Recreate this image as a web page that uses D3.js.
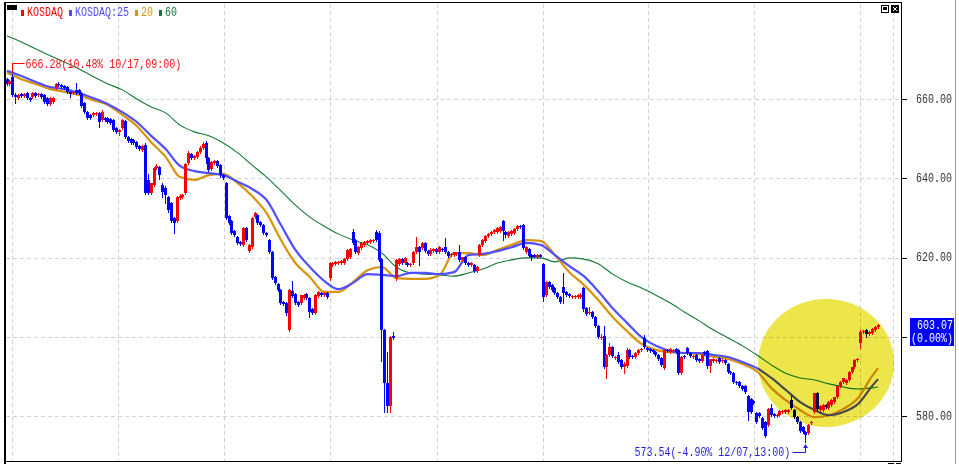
<!DOCTYPE html>
<html><head><meta charset="utf-8">
<script src="https://cdn.jsdelivr.net/npm/d3@7"></script>
<style>html,body{margin:0;padding:0;background:#fff;}svg{display:block;}</style>
</head><body>
<script>
// ---- hourly candles [open, high, low, close] ----
const segA = [
[665.0,665.3,663.6,663.8],[663.8,664.8,663.6,664.5],[665.5,666.28,660.8,661.0],[661.0,661.5,659.0,660.5],
[660.3,661.2,660.0,661.0],[661.3,661.5,660.5,660.8],[660.8,661.4,660.6,661.2],[661.5,661.8,660.0,660.3],
[660.3,660.6,659.6,659.8],[660.5,661.8,660.3,661.5],[661.5,661.8,660.6,660.8],[661.0,661.4,660.8,661.3],
[661.3,661.5,660.3,660.5],[661.0,661.2,659.0,659.2],[660.3,660.5,658.4,658.7],[658.7,660.5,658.5,660.3],
[659.2,660.5,659.0,660.3],[662.8,664.0,662.6,663.8],[663.8,664.3,663.3,663.5],[663.5,663.7,662.9,663.1],
[663.3,663.5,662.6,662.8],[663.0,663.2,661.5,661.8],[661.8,662.0,660.6,661.3],[661.5,662.0,661.3,661.8],
[662.3,664.0,661.3,661.5],[662.3,662.5,661.3,661.5],[661.5,661.8,658.0,658.2],[659.0,659.2,656.5,656.7],
[656.7,657.0,655.0,655.2],[656.0,656.2,655.0,655.2],[656.0,656.7,655.8,656.5],[656.2,656.8,656.0,656.5],
[656.5,656.8,652.9,654.2],[654.7,657.2,654.5,656.7],[655.2,655.5,654.5,654.7],[655.2,655.4,654.0,654.2],
[655.0,655.2,653.7,653.9],[654.7,655.0,652.0,652.2],[652.7,652.9,651.5,651.7],[651.7,652.4,650.9,652.2],
[652.7,655.0,652.5,654.7],[654.4,654.7,650.2,650.4],[650.4,650.7,649.1,649.4],[649.9,650.2,648.6,648.9],
[649.7,649.9,648.6,648.9],[649.1,649.4,647.6,647.9],[648.1,648.4,647.1,647.4],[647.1,648.4,646.9,648.1],
[648.4,648.9,636.0,636.3],[639.6,641.0,636.0,636.3],[636.3,638.8,636.0,638.8],[638.3,642.8,638.0,642.6]
];
const segB = [
[642.6,643.6,642.3,643.1],[642.8,643.1,639.8,640.8],[638.3,638.8,635.3,636.5],[637.6,638.0,633.8,635.8],
[635.3,635.5,631.5,632.0],[633.8,634.0,629.0,629.2],[630.0,630.3,626.2,628.7],[629.2,635.5,629.0,635.3],
[635.0,636.0,634.8,635.5],[635.3,636.0,635.0,635.8],[636.3,643.9,636.0,643.6],[643.9,646.9,643.6,646.4],
[646.1,646.4,644.9,645.1],[645.1,645.9,644.9,645.6],[645.4,646.9,645.1,646.6],[646.6,648.1,646.4,647.6],
[647.6,649.1,647.4,648.6],[648.9,649.4,643.9,645.1],[645.1,645.4,641.8,642.1],[642.3,644.4,642.0,644.1],
[643.9,644.6,643.6,644.4],[644.4,644.6,642.8,643.1],[643.3,643.6,640.3,640.8],[640.8,641.1,639.8,640.1],
[638.8,639.1,629.7,630.0],[630.5,630.7,628.5,628.7],[629.2,629.5,625.9,626.2],[626.7,627.0,625.4,625.7],
[625.2,625.4,623.4,623.7],[623.9,624.2,623.2,623.4],[623.2,627.7,622.9,627.5],[627.5,627.7,624.2,624.4],
[621.7,623.4,621.4,623.2],[622.7,630.2,622.4,630.0],[630.2,631.5,630.0,631.2],[630.7,631.0,628.5,628.7],
[629.0,629.2,628.0,628.2],[628.2,628.5,626.0,626.2],[626.2,626.5,625.4,625.7],[624.4,624.7,621.1,621.4],
[621.4,621.7,614.6,614.8],[615.1,615.3,613.3,613.6],[613.3,613.6,611.6,611.8],[611.8,612.1,608.3,608.5],
[608.8,609.0,608.0,608.3],[608.5,608.8,605.5,606.0],[601.7,612.0,601.5,611.8],[611.5,614.1,610.0,610.3],
[610.8,611.0,608.3,608.5],[608.8,609.0,607.8,608.0],[608.5,610.5,608.3,610.5]
];
const segC = [
[609.8,610.8,609.5,610.5],[610.8,611.0,609.5,609.8],[609.8,610.0,605.0,606.3],[607.0,607.3,605.8,606.0],
[606.0,610.8,605.8,610.5],[610.3,611.5,610.0,611.3],[611.0,611.3,610.3,610.5],[610.5,611.2,610.3,611.0],
[611.0,611.3,609.8,610.0],[614.8,618.9,614.3,618.6],[618.1,618.9,617.9,618.6],[618.4,619.0,618.1,618.8],
[618.6,619.1,618.4,618.9],[618.6,619.4,618.4,619.1],[618.6,619.9,618.4,619.6],[619.6,622.2,619.4,621.9],
[620.1,622.4,619.9,622.2],[626.5,627.2,623.4,623.7],[624.4,624.7,621.1,621.4],[621.1,622.9,620.9,622.7],
[622.4,623.9,622.2,623.7],[623.2,624.2,622.9,623.9],[623.7,624.4,623.4,624.2],[623.9,624.7,623.7,624.4],
[624.2,624.7,624.0,624.4],[626.5,627.0,624.2,624.4],[626.2,626.7,619.1,619.4],[619.6,620.0,594.0,601.7],
[601.7,602.0,581.0,588.3],[588.3,596.2,581.0,582.5],[582.5,600.2,581.0,599.9],[600.2,601.2,599.4,599.7],
[614.8,619.6,614.3,619.4],[618.4,619.9,618.1,619.6],[619.6,619.9,618.4,618.6],[618.6,620.1,618.4,619.9],
[618.6,618.9,617.9,618.1],[618.1,618.6,617.9,618.4],[618.6,621.7,618.4,621.4],[621.4,625.2,621.1,622.7],
[622.7,623.0,618.1,621.4],[622.4,623.9,622.2,623.7],[623.7,623.9,621.4,621.7],[621.7,621.9,620.6,620.9],
[620.9,622.4,620.6,621.9],[621.7,622.4,621.4,622.2],[622.2,622.4,621.1,621.4],[621.4,622.9,621.1,622.7],
[622.2,622.4,621.7,621.9],[622.7,624.9,621.1,621.4],[621.4,621.7,620.1,620.4],[620.6,621.2,620.4,620.9]
];
const segD = [
[620.6,621.4,620.4,621.4],[620.9,621.4,620.6,621.2],[621.4,623.2,619.1,619.4],[619.4,620.2,619.1,620.1],
[620.1,620.4,618.4,618.6],[618.6,618.9,617.9,618.1],[618.1,618.9,617.9,618.6],[618.1,618.4,616.3,616.6],
[616.6,617.9,616.3,617.6],[620.6,623.4,620.4,623.2],[623.2,624.7,622.9,624.4],[624.2,625.7,624.0,625.4],
[625.4,626.2,625.2,626.0],[626.0,626.7,625.7,626.5],[626.5,627.2,626.2,627.0],[626.5,627.7,626.2,627.5],
[626.7,628.0,626.5,627.7],[629.2,629.5,624.4,626.7],[626.5,626.7,625.2,625.7],[625.4,626.7,625.2,626.5],
[626.0,627.0,625.7,626.7],[626.2,627.5,626.0,627.2],[627.2,628.2,627.0,628.0],[628.0,628.2,627.5,627.7],
[628.2,628.5,622.2,622.4],[621.4,622.9,621.1,622.7],[622.2,622.4,620.1,620.4],[620.6,620.9,619.4,620.1],
[620.6,620.9,620.1,620.1],[620.1,620.9,619.9,620.6],[620.6,620.9,620.1,620.1],[618.4,618.6,609.0,610.0],
[610.5,614.1,610.3,613.8],[613.8,614.1,612.3,612.6],[613.1,613.3,611.5,611.8],[612.3,612.6,610.8,611.0],
[611.0,611.3,609.8,610.0],[610.0,610.3,608.5,608.8],[612.6,616.1,608.5,611.0],[611.3,611.5,610.3,610.5],
[610.8,611.0,610.0,610.3],[610.0,610.5,609.8,610.3],[610.0,610.5,609.8,610.3],[610.0,610.8,609.8,610.5],
[610.0,611.0,609.8,610.5],[612.3,612.6,606.5,607.0],[607.3,607.5,605.5,605.7],[605.9,607.5,605.7,606.3],
[606.3,606.5,604.7,605.0],[605.0,605.2,602.5,602.7],[602.7,603.0,599.7,599.9]
];
const segE = [
[599.7,600.7,599.4,600.0],[600.2,602.7,592.1,592.4],[592.4,595.6,589.6,595.4],[595.4,598.4,595.2,597.4],
[597.4,597.7,594.9,595.2],[594.6,595.2,594.4,595.0],[595.4,596.2,593.4,593.6],[594.1,594.4,592.1,592.4],
[592.4,593.6,590.9,593.1],[592.6,597.2,592.4,596.7],[596.7,596.9,594.6,595.0],[595.2,595.4,594.6,594.9],
[594.9,596.2,594.6,595.9],[595.9,596.9,595.7,596.7],[596.7,597.2,596.4,596.9],[599.7,600.4,597.2,597.4],
[597.2,597.4,596.4,596.7],[596.9,597.2,596.2,596.4],[596.7,596.9,595.9,596.2],[596.2,596.4,595.2,595.4],
[595.4,595.7,594.1,594.4],[594.6,594.9,592.6,592.9],[592.1,596.9,591.9,596.7],[596.7,596.9,596.2,596.4],
[596.2,597.2,596.0,596.9],[596.4,596.9,596.2,596.7],[596.9,597.2,596.0,596.2],[596.7,596.9,590.6,590.9],
[590.9,595.2,590.6,594.9],[595.2,595.4,594.6,594.9],[597.2,597.4,595.7,595.9],[595.9,596.2,595.0,595.2],
[594.9,595.4,594.6,595.2],[595.4,595.7,593.9,594.1],[594.4,594.6,593.6,593.9],[593.9,595.7,593.6,595.4],
[596.2,596.4,595.4,595.7],[596.4,596.7,592.1,592.6],[592.6,594.4,591.1,594.4],[593.9,594.6,593.6,594.4],
[593.9,594.4,593.6,594.1],[594.6,594.9,593.4,593.6],[593.9,594.4,593.6,594.1],[594.1,594.4,593.1,593.4],
[593.1,593.4,590.9,591.1],[591.1,591.4,590.6,590.9],[590.9,591.1,588.3,588.6],[588.6,588.8,588.1,588.3],
[588.6,588.8,587.3,587.6],[587.6,587.8,586.6,586.9]
];
const segF = [
[587.6,587.8,585.8,586.1],[585.0,585.3,579.0,581.0],[584.3,584.5,580.8,581.0],[583.8,584.0,583.0,583.3],
[580.8,581.0,578.2,578.5],[580.8,581.0,579.8,580.0],[579.5,579.8,576.8,577.0],[578.5,578.8,574.7,575.0],
[577.7,582.0,577.5,581.8],[582.0,583.0,580.0,580.3],[580.5,580.8,579.8,580.0],[580.0,580.5,579.8,580.3],
[580.3,581.5,580.0,581.3],[581.0,581.5,580.8,581.3],[581.0,581.8,580.8,581.5],[581.0,581.8,580.8,581.5],
[584.0,585.0,581.8,582.0],[581.5,581.8,579.5,579.8],[579.8,580.0,578.2,578.5],[578.5,578.8,576.0,576.2],
[577.2,577.5,575.7,576.0],[576.0,576.2,573.54,575.2],[575.7,578.0,575.5,577.7],[578.2,578.8,578.0,578.5],
[581.0,585.8,580.8,585.8],[585.8,586.1,581.5,581.7],[581.5,582.8,581.3,582.5],[581.5,583.0,581.3,582.8],
[582.8,583.0,582.0,582.3],[582.0,583.8,581.8,583.5],[582.8,584.3,582.5,584.0],[583.5,584.8,583.3,584.8],
[584.8,587.8,584.5,587.6],[587.6,588.8,587.3,588.6],[588.6,589.6,588.3,589.6],[588.3,589.3,588.1,589.1],
[589.1,591.4,588.8,591.1],[591.1,592.4,590.9,592.4],[592.4,594.4,592.1,594.1],[594.1,594.6,593.9,594.4],
[598.4,601.7,597.2,601.2],[601.2,601.7,601.0,601.5],[601.7,602.0,599.9,600.7],[600.7,601.5,600.4,601.2],
[601.0,602.2,600.7,602.0],[601.7,602.7,601.5,602.5],[602.5,603.2,602.2,603.07]
];
const candles = [].concat(segA, segB, segC, segD, segE, segF);

// ---- moving averages, read at these bar indices ----
const maBars = [0,5,10,15,20,25,30,35,40,45,50,55,60,65,70,75,80,85,90,95,100,105,110,115,120,125,130,135,140,145,150,155,160,165,170,175,180,185,190,195,200,205,210,215,220,225,230,235,240,245,250,255,260,265,270,275,280,285,290,295,300,302];
const ma25 = [667.1,665.8,664.3,663.0,662.5,661.5,660.2,658.7,656.7,654.2,650.7,647.4,643.1,641.8,641.3,640.8,639.1,637.3,634.5,628.2,621.9,617.6,614.1,612.0,613.6,615.8,615.6,615.3,616.1,616.1,615.8,616.3,620.6,620.9,621.6,622.6,623.7,623.2,620.6,617.8,615.3,611.5,607.2,603.5,599.9,597.7,596.4,595.9,595.9,595.4,594.9,593.6,592.1,589.6,586.6,583.5,581.5,580.2,581.0,583.0,587.6,589.3];
const ma20 = [666.6,665.0,663.8,662.5,661.8,661.0,659.7,658.5,656.0,653.2,649.1,645.4,640.3,639.6,640.8,641.1,638.8,635.5,631.2,624.4,618.6,615.1,611.3,611.3,613.8,616.8,617.6,614.8,614.6,614.6,615.6,621.1,621.1,620.6,621.9,623.2,624.4,624.2,620.6,616.3,613.1,609.3,605.0,601.4,598.2,596.7,596.1,595.9,595.6,594.9,594.4,593.1,591.3,587.1,584.0,581.5,579.7,580.2,581.8,584.5,590.1,592.1];
const ma60 = [675.9,674.4,672.6,670.9,669.3,667.6,665.6,663.8,662.3,660.0,658.0,656.5,653.4,651.7,650.7,648.9,646.4,643.3,640.3,636.8,633.2,630.2,627.9,625.9,624.4,623.2,621.1,617.6,616.1,615.8,615.6,615.3,616.1,617.1,618.6,619.4,619.9,619.9,618.9,619.9,619.6,618.4,615.8,613.8,612.3,610.5,608.5,606.2,604.0,601.7,599.7,597.7,595.4,592.9,590.8,589.6,589.1,588.1,587.3,586.8,587.1,587.3];

// ---- axis / labels ----
const yTicks = [580, 600, 620, 640, 660];
const yTickLabels = ["580.00", "600.00", "620.00", "640.00", "660.00"];
const gridBars = [1.7, 38.5, 75.2, 112, 149.1, 185.9, 222.3, 259, 295.8, 307.2];
const legendLabels = ["KOSDAQ", "KOSDAQ:25", "20", "60"];
const legendColors = ["#ff0000", "#4e4eff", "#d8930a", "#127a34"];
const highTime = "10/17,09:00";
const lowTime = "12/07,13:00";
const highlightCenter = {bar: 284, price: 593.4};

// ---- drawing ----
const W = 959, H = 464;
const FONT = "'Liberation Mono','DejaVu Sans Mono',monospace";
const svg = d3.select("body").append("svg").attr("width", W).attr("height", H)
  .style("font-family", FONT);
svg.append("rect").attr("width", W).attr("height", H).attr("fill", "#fff");

const x = d3.scaleLinear().domain([0, candles.length - 1]).range([7, 878]);
const y = d3.scaleLinear().domain([580, 660]).range([416, 99]);
const PL = 5, PR = 901.5, PT = 2.5, PB = 461.5;

// fixed-pitch (6px per char) text, stretched vertically like the bitmap font
const PITCH = 6;
function monoText(g, str, left, cy, color) {
  return g.append("text").attr("transform", `translate(${left},${cy}) scale(1,1.25)`)
    .attr("dominant-baseline", "middle").attr("font-size", 10).attr("fill", color).text(str);
}

// grid
const grid = svg.append("g").attr("stroke", "#d3d3d3").attr("stroke-dasharray", "4,3").attr("shape-rendering", "crispEdges");
grid.selectAll("line.h").data(yTicks).join("line").attr("class", "h")
  .attr("x1", PL + 1).attr("x2", PR)
  .attr("y1", d => Math.round(y(d)) + 0.5).attr("y2", d => Math.round(y(d)) + 0.5);
grid.selectAll("line.v").data(gridBars).join("line").attr("class", "v")
  .attr("y1", PT + 1).attr("y2", PB)
  .attr("x1", d => Math.round(x(d)) + 0.5).attr("x2", d => Math.round(x(d)) + 0.5);

// moving averages
const maLine = vals => d3.line().x((d, i) => x(maBars[i])).y(d => y(d)).curve(d3.curveMonotoneX)(vals);
svg.append("path").attr("d", maLine(ma60)).attr("fill", "none").attr("stroke", "#127a34").attr("stroke-width", 1.1);
svg.append("path").attr("d", maLine(ma20)).attr("fill", "none").attr("stroke", "#d8930a").attr("stroke-width", 2.2);
svg.append("path").attr("d", maLine(ma25)).attr("fill", "none").attr("stroke", "#5050ff").attr("stroke-width", 2.2);

// candles
const UP = "#ff0000", DOWN = "#0000ff";
const col = d => d[3] >= d[0] ? UP : DOWN;
const bodyL = i => Math.round(x(i) - 1.5);
const cg = svg.append("g").attr("shape-rendering", "crispEdges");
cg.selectAll("line").data(candles).join("line")
  .attr("x1", (d, i) => bodyL(i) + 1.5).attr("x2", (d, i) => bodyL(i) + 1.5)
  .attr("y1", d => Math.round(y(d[1]))).attr("y2", d => Math.round(y(d[2])) + 1)
  .attr("stroke", col);
cg.selectAll("rect").data(candles).join("rect")
  .attr("x", (d, i) => bodyL(i)).attr("width", 3)
  .attr("y", d => Math.round(y(Math.max(d[0], d[3]))))
  .attr("height", d => Math.max(1, Math.round(y(Math.min(d[0], d[3]))) - Math.round(y(Math.max(d[0], d[3])))))
  .attr("fill", col);

// high / low annotations
const last = candles[candles.length - 1][3];
const hiIdx = d3.maxIndex(candles, d => d[1]);
const loIdx = d3.minIndex(candles, d => d[2]);
const hi = candles[hiIdx][1], lo = candles[loIdx][2];
const pct = v => ((v - last) / last * 100).toFixed(2);
const hx = bodyL(hiIdx) + 1.5;
const ann = svg.append("g");
ann.append("path").attr("d", `M${hx},${Math.round(y(hi)) - 1}V63.5H${hx + 12}`)
  .attr("fill", "none").attr("stroke", "#ff0000");
const hiText = `${hi.toFixed(2)}(${pct(hi)}% ${highTime})`;
monoText(ann, hiText, hx + 13, 64.5, "#f01414");
const lx = bodyL(loIdx) + 1.5;
const loText = `${lo.toFixed(2)}(${pct(lo)}% ${lowTime})`;
ann.append("path").attr("d", `M${lx - 13},452.5H${lx}V${Math.round(y(lo)) + 5}`)
  .attr("fill", "none").attr("stroke", "#1e1ee0");
ann.append("path").attr("d", `M${lx},${Math.round(y(lo)) + 2}l-2.5,4h5z`).attr("fill", "#1e1ee0");
monoText(ann, loText, lx - 15 - loText.length * PITCH, 452.5, "#1e1ee0");

// highlight circle (marker pen, multiply)
svg.append("ellipse").attr("cx", x(highlightCenter.bar)).attr("cy", y(highlightCenter.price))
  .attr("rx", 68).attr("ry", 64).attr("fill", "rgb(236,230,74)").style("mix-blend-mode", "multiply");

// frame
const fr = svg.append("g").attr("stroke", "#000").attr("shape-rendering", "crispEdges");
fr.append("line").attr("x1", 5).attr("x2", 5).attr("y1", 2).attr("y2", 464).attr("stroke-width", 2);
fr.append("line").attr("x1", 4).attr("x2", 902).attr("y1", PT).attr("y2", PT);
fr.append("line").attr("x1", PR).attr("x2", PR).attr("y1", 2).attr("y2", 462);
fr.append("line").attr("x1", 4).attr("x2", 902).attr("y1", PB).attr("y2", PB);
fr.append("line").attr("x1", 888).attr("x2", 894).attr("y1", 463.5).attr("y2", 463.5);
fr.append("line").attr("x1", 896).attr("x2", 901).attr("y1", 463.5).attr("y2", 463.5);
svg.append("line").attr("x1", 955.5).attr("x2", 955.5).attr("y1", 0).attr("y2", H).attr("stroke", "#9a9a9a");

// window icons
svg.append("rect").attr("x", 881.5).attr("y", 5.5).attr("width", 7).attr("height", 7).attr("fill", "#fff").attr("stroke", "#000");
svg.append("rect").attr("x", 883).attr("y", 7).attr("width", 4).attr("height", 3).attr("fill", "#000");
svg.append("rect").attr("x", 891).attr("y", 5).attr("width", 8).attr("height", 8).attr("fill", "#000");
svg.append("path").attr("d", "M893,7L897,11M897,7L893,11").attr("stroke", "#fff");

// right axis
const ax = svg.append("g");
ax.selectAll("line").data(yTicks).join("line")
  .attr("x1", 902).attr("x2", 907)
  .attr("y1", d => Math.round(y(d)) + 0.5).attr("y2", d => Math.round(y(d)) + 0.5)
  .attr("stroke", "#000").attr("shape-rendering", "crispEdges");
const boxTop = Math.round(y(last)) - 7, boxBot = boxTop + 28;
yTicks.forEach((t, i) => {
  if (y(t) > boxTop - 6 && y(t) < boxBot + 6) return; // hidden behind the price box
  monoText(ax, yTickLabels[i], 952 - yTickLabels[i].length * PITCH, y(t) + 0.5, "#333");
});
svg.append("rect").attr("x", 910).attr("y", boxTop).attr("width", 44).attr("height", 28).attr("fill", "#0000ff");
const pb = svg.append("g");
const lastTxt = last.toFixed(2), chgTxt = `(${pct(last)}%)`;
monoText(pb, lastTxt, 953 - lastTxt.length * PITCH, y(last) + 0.8, "#fff");
monoText(pb, chgTxt, 953 - chgTxt.length * PITCH, y(last) + 13.8, "#fff");

// legend
svg.append("rect").attr("x", 7).attr("y", 5).attr("width", 10).attr("height", 5).attr("fill", "#000");
let lxp = 21;
legendLabels.forEach((lab, i) => {
  svg.append("rect").attr("x", lxp).attr("y", 10).attr("width", 3).attr("height", 6).attr("fill", legendColors[i]);
  monoText(svg, lab, lxp + 6, 12.8, legendColors[i]);
  lxp += 6 + lab.length * PITCH + 6;
});
</script>
</body></html>
